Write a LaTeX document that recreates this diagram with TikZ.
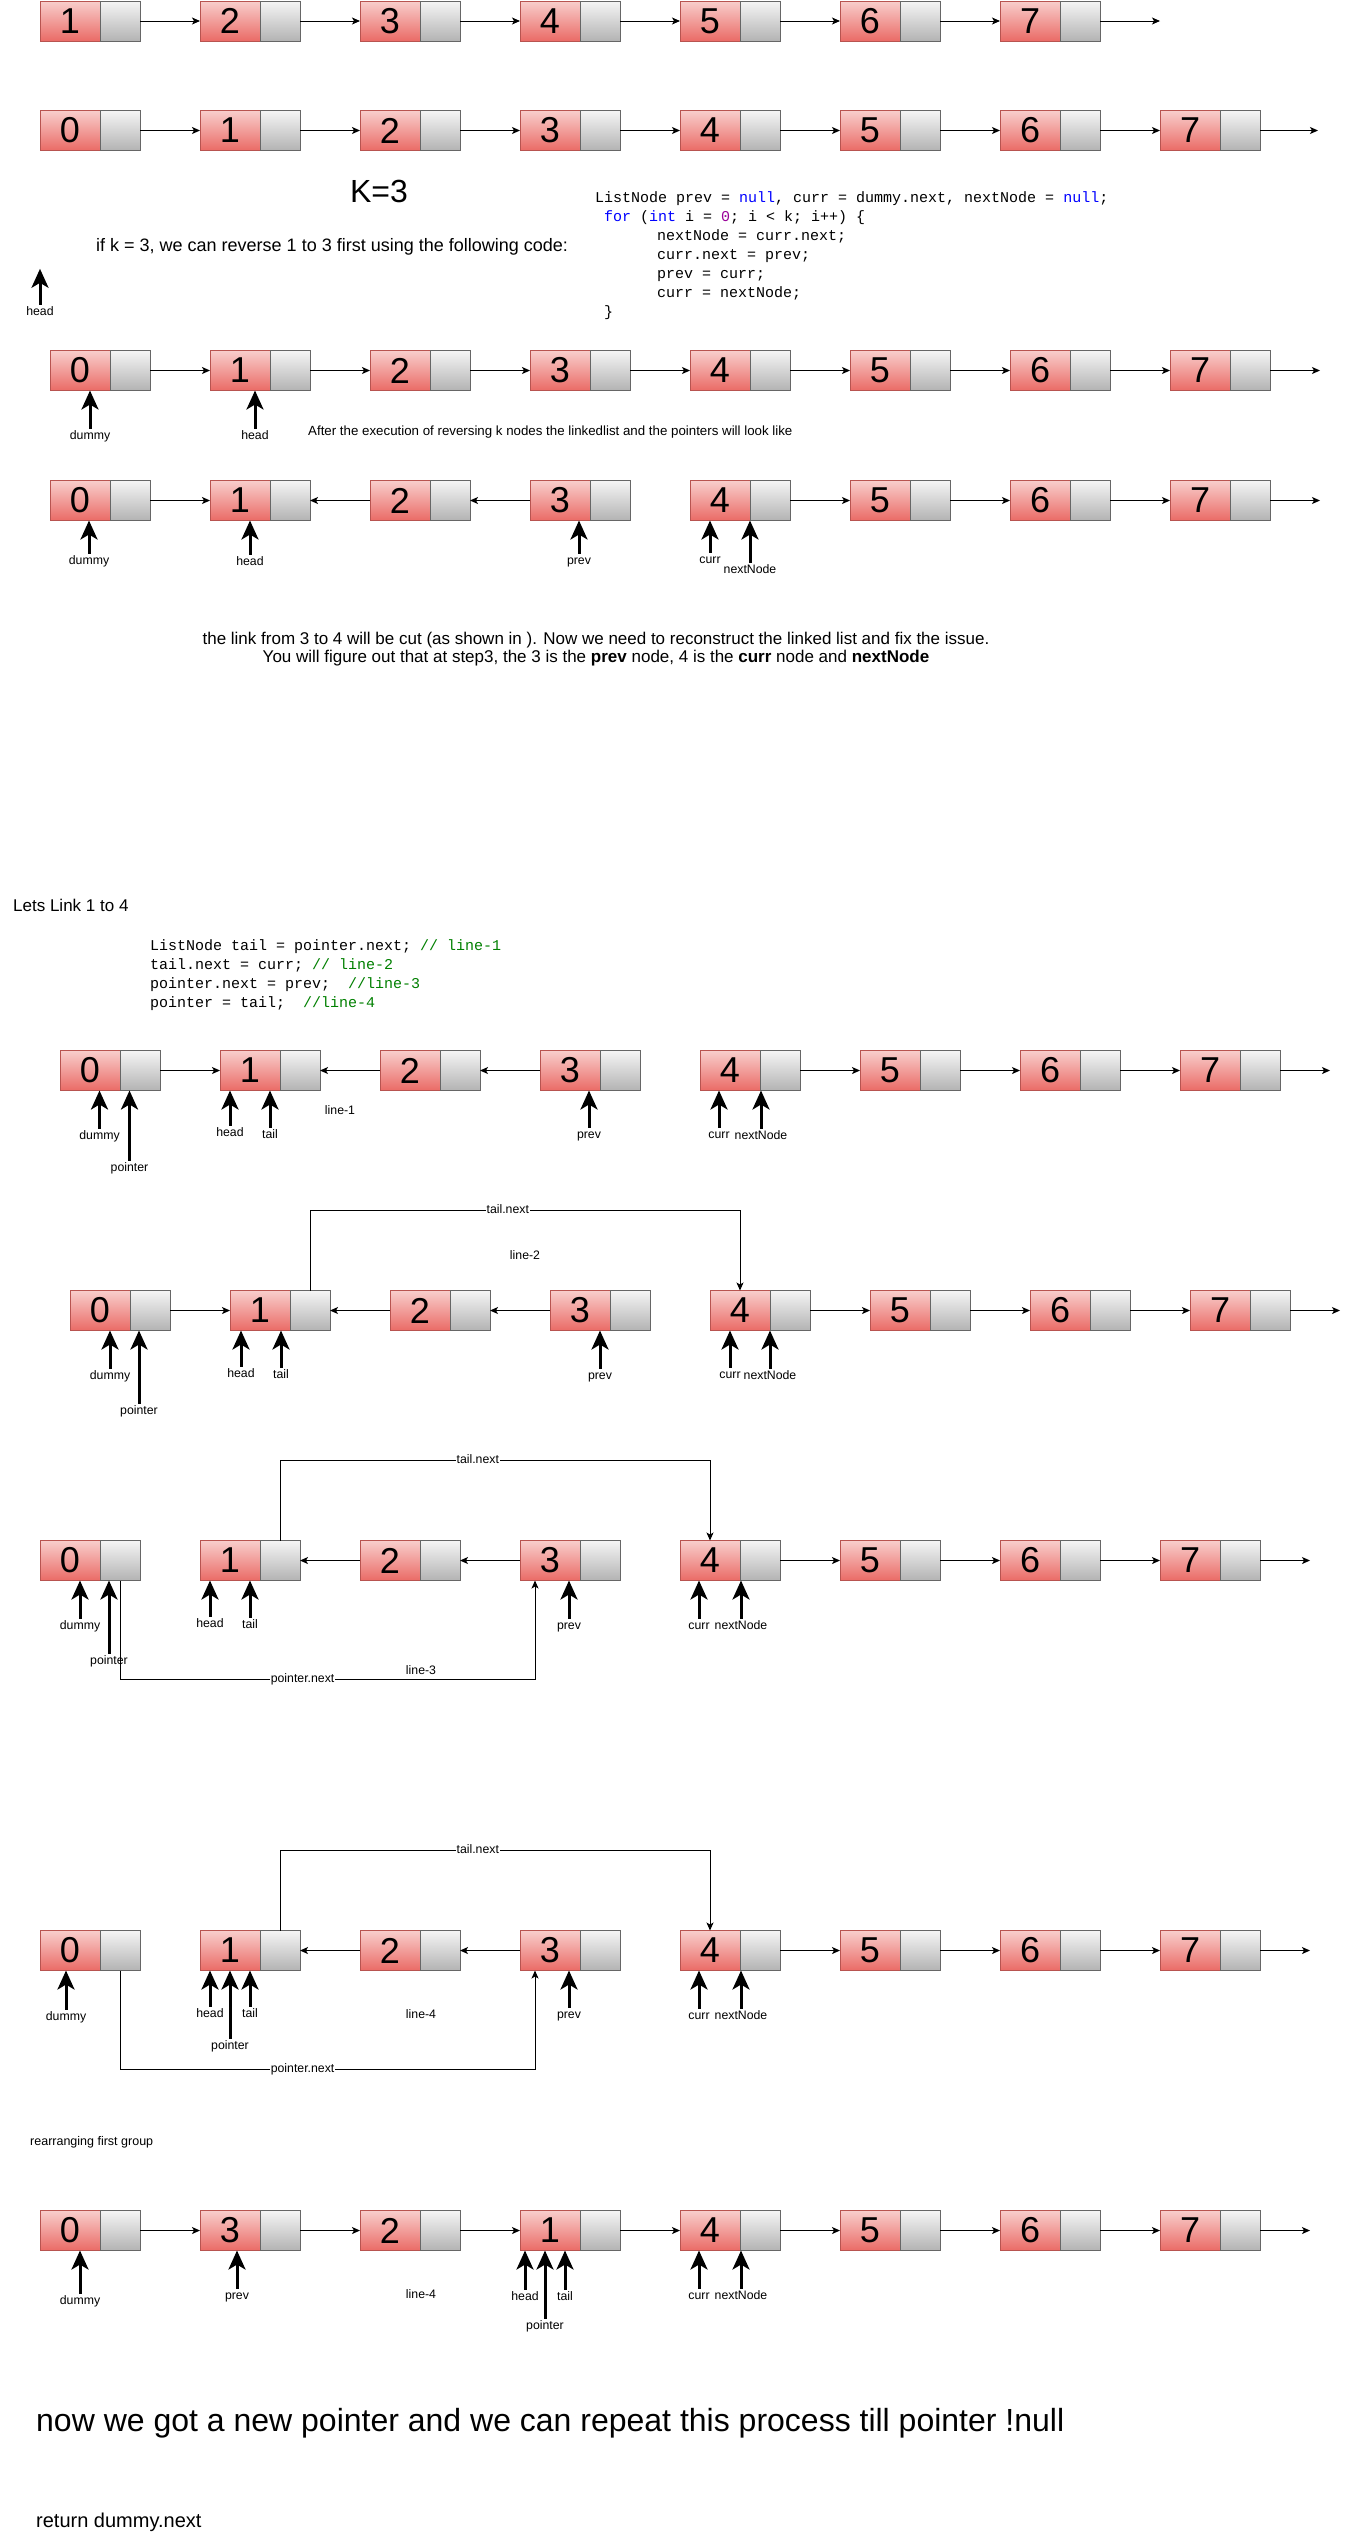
\documentclass[tikz,border=0pt]{standalone}
\usepackage{fontspec}
\setmainfont{Liberation Sans}
\newfontfamily\codefont{Liberation Mono}
\usetikzlibrary{arrows.meta,positioning}
\definecolor{celltop}{HTML}{F8CECC}
\definecolor{cellbot}{HTML}{EA6B66}
\definecolor{cellline}{HTML}{B85450}
\definecolor{nexttop}{HTML}{F5F5F5}
\definecolor{nextbot}{HTML}{B3B3B3}
\definecolor{nextline}{HTML}{666666}
\definecolor{kwblue}{HTML}{0000FF}
\definecolor{numpurple}{HTML}{990099}
\definecolor{cmtgreen}{HTML}{008000}
\newcommand{\kw}[1]{\textcolor{kwblue}{#1}}
\newcommand{\cmt}[1]{\textcolor{cmtgreen}{#1}}
\tikzset{
  cell/.style={draw=cellline, top color=celltop, bottom color=cellbot, minimum width=60pt, minimum height=40pt, inner sep=0pt, outer sep=0pt, font=\fontsize{36}{36}\selectfont},
  nextcell/.style={draw=nextline, top color=nexttop, bottom color=nextbot, minimum width=40pt, minimum height=40pt, inner sep=0pt, outer sep=0pt},
  link/.style={-{Stealth[length=8pt,width=7pt,inset=2pt]}, line width=1pt},
  ptrarrow/.style={-{Stealth[length=19pt,width=17pt,inset=5pt]}, line width=3pt},
  tag/.style={font=\fontsize{12.3}{12.3}\selectfont, inner sep=1pt, text height=9pt, text depth=3pt},
  code/.style={font=\codefont\fontsize{15}{15}\selectfont, anchor=base west, inner sep=0pt},
  note/.style={anchor=west, inner sep=0pt}
}
\newcommand{\listrow}[4]{%
  \foreach \dig [count=\idx from 0] in {#4} {
    \node[cell] (#1v\idx) at ({#2+160*\idx+30},#3) {\dig};
    \node[nextcell, right=0pt of #1v\idx] (#1n\idx) {};
  }}
\newcommand{\pointsto}[5]{%
  \node[tag] (#1) at (#2,#3) {#4};
  \draw[ptrarrow] (#1.north) -- (#1 |- #5.south);}

\begin{document}
\begin{tikzpicture}[x=1pt,y=-1pt]
\useasboundingbox (0,0) rectangle (1349,2541);
\fill[white] (0,0) rectangle (1349,2541);

\listrow{A}{40}{21}{1,2,3,4,5,6,7}
\foreach \a/\b in {0/1,1/2,2/3,3/4,4/5,5/6} \draw[link] (An\a) -- (Av\b);
\draw[link] (An6.east) -- ++(60,0);

\listrow{B}{40}{130.5}{0,1,2,3,4,5,6,7}
\foreach \a/\b in {0/1,1/2,2/3,3/4,4/5,5/6,6/7} \draw[link] (Bn\a) -- (Bv\b);
\draw[link] (Bn7.east) -- ++(58,0);

\node[font=\fontsize{32}{32}\selectfont] (kval) at (379,191) {K=3};
\node[note, font=\fontsize{18}{18}\selectfont] (ifk) at (96,247) {if k = 3, we can reverse 1 to 3 first using the following code:};
\node[code] (c1a) at (595,202) {ListNode prev = \kw{null}, curr = dummy.next, nextNode = \kw{null};};
\node[code] (c1b) at (604,221) {\kw{for} (\kw{int} i = \textcolor{numpurple}{0}; i < k; i++) \{};
\node[code] (c1c) at (657,240) {nextNode = curr.next;};
\node[code] (c1d) at (657,259) {curr.next = prev;};
\node[code] (c1e) at (657,278) {prev = curr;};
\node[code] (c1f) at (657,297) {curr = nextNode;};
\node[code] (c1g) at (604,316) {\}};

\node[tag] (Ahead) at (40,312) {head};
\draw[ptrarrow] (Ahead.north) -- ++(0,-36);

\listrow{C}{50}{370.5}{0,1,2,3,4,5,6,7}
\foreach \a/\b in {0/1,1/2,2/3,3/4,4/5,5/6,6/7} \draw[link] (Cn\a) -- (Cv\b);
\draw[link] (Cn7.east) -- ++(50,0);
\pointsto{Cdummy}{90}{436}{dummy}{Cv0}
\pointsto{Chead}{255}{436}{head}{Cv1}
\node[note, font=\fontsize{13.3}{13.3}\selectfont] (after) at (308,432) {After the execution of reversing k nodes the linkedlist and the pointers will look like};

\listrow{D}{50}{500.5}{0,1,2,3,4,5,6,7}
\draw[link] (Dn0) -- (Dv1);
\draw[link] (Dv2) -- (Dn1);
\draw[link] (Dv3) -- (Dn2);
\foreach \a/\b in {4/5,5/6,6/7} \draw[link] (Dn\a) -- (Dv\b);
\draw[link] (Dn7.east) -- ++(50,0);
\pointsto{Ddummy}{89}{561}{dummy}{Dv0}
\pointsto{Dhead}{250}{562}{head}{Dv1}
\pointsto{Dprev}{579}{561}{prev}{Dv3}
\pointsto{Dcurr}{710}{560}{curr}{Dv4}
\pointsto{Dnext}{750}{570}{nextNode}{Dv4}

\node[align=center, font=\fontsize{17}{18}\selectfont] (cutnote) at (596,649) {the link from 3 to 4 will be cut (as shown in ). Now we need to reconstruct the linked list and fix the issue.\\You will figure out that at step3, the 3 is the \textbf{prev} node, 4 is the \textbf{curr} node and \textbf{nextNode}};

\node[note, font=\fontsize{17}{17}\selectfont] (letslink) at (13,905) {Lets Link 1 to 4};
\node[code] (c2a) at (150,950) {ListNode tail = pointer.next; \cmt{// line-1}};
\node[code] (c2b) at (150,969) {tail.next = curr; \cmt{// line-2}};
\node[code] (c2c) at (150,988) {pointer.next = prev;~~\cmt{//line-3}};
\node[code] (c2d) at (150,1007) {pointer = tail;~~\cmt{//line-4}};

\listrow{E}{60}{1070.5}{0,1,2,3,4,5,6,7}
\draw[link] (En0) -- (Ev1);
\draw[link] (Ev2) -- (En1);
\draw[link] (Ev3) -- (En2);
\foreach \a/\b in {4/5,5/6,6/7} \draw[link] (En\a) -- (Ev\b);
\draw[link] (En7.east) -- ++(50,0);
\pointsto{Edummy}{99.5}{1136}{dummy}{Ev0}
\pointsto{Epointer}{129.5}{1168}{pointer}{En0}
\pointsto{Ehead}{230}{1133}{head}{Ev1}
\pointsto{Etail}{270}{1135}{tail}{Ev1}
\pointsto{Eprev}{589}{1135}{prev}{Ev3}
\pointsto{Ecurr}{719}{1135}{curr}{Ev4}
\pointsto{Enext}{761}{1136}{nextNode}{Ev4}
\node[tag] (line1) at (340,1111) {line-1};

\listrow{F}{70}{1310.5}{0,1,2,3,4,5,6,7}
\draw[link] (Fn0) -- (Fv1);
\draw[link] (Fv2) -- (Fn1);
\draw[link] (Fv3) -- (Fn2);
\foreach \a/\b in {4/5,5/6,6/7} \draw[link] (Fn\a) -- (Fv\b);
\draw[link] (Fn7.east) -- ++(50,0);
\draw[link] (Fn1.north) -- ++(0,-80) -| node[tag, fill=white, pos=0.23] {tail.next} (Fv4.north);
\node[tag] (line2) at (525,1256) {line-2};
\pointsto{Fdummy}{110}{1376}{dummy}{Fv0}
\pointsto{Fpointer}{139}{1411}{pointer}{Fn0}
\pointsto{Fhead}{241}{1374}{head}{Fv1}
\pointsto{Ftail}{281}{1375}{tail}{Fv1}
\pointsto{Fprev}{600}{1376}{prev}{Fv3}
\pointsto{Fcurr}{730}{1375}{curr}{Fv4}
\pointsto{Fnext}{770}{1376}{nextNode}{Fv4}

\listrow{G}{40}{1560.5}{0,1,2,3,4,5,6,7}
\draw[link] (Gv2) -- (Gn1);
\draw[link] (Gv3) -- (Gn2);
\foreach \a/\b in {4/5,5/6,6/7} \draw[link] (Gn\a) -- (Gv\b);
\draw[link] (Gn7.east) -- ++(50,0);
\draw[link] (Gn1.north) -- ++(0,-80) -| node[tag, fill=white, pos=0.23] {tail.next} (Gv4.north);
\draw[link] (Gn0.south) -- ++(0,99) -| node[tag, fill=white, pos=0.22] {pointer.next} ([xshift=15pt]Gv3.south west);
\node[tag] (line3) at (421,1671) {line-3};
\pointsto{Gdummy}{80}{1626}{dummy}{Gv0}
\pointsto{Gpointer}{109}{1661}{pointer}{Gn0}
\pointsto{Ghead}{210}{1624}{head}{Gv1}
\pointsto{Gtail}{250}{1625}{tail}{Gv1}
\pointsto{Gprev}{569}{1626}{prev}{Gv3}
\pointsto{Gcurr}{699}{1626}{curr}{Gv4}
\pointsto{Gnext}{741}{1626}{nextNode}{Gv4}

\listrow{H}{40}{1950.5}{0,1,2,3,4,5,6,7}
\draw[link] (Hv2) -- (Hn1);
\draw[link] (Hv3) -- (Hn2);
\foreach \a/\b in {4/5,5/6,6/7} \draw[link] (Hn\a) -- (Hv\b);
\draw[link] (Hn7.east) -- ++(50,0);
\draw[link] (Hn1.north) -- ++(0,-80) -| node[tag, fill=white, pos=0.23] {tail.next} (Hv4.north);
\draw[link] (Hn0.south) -- ++(0,99) -| node[tag, fill=white, pos=0.22] {pointer.next} ([xshift=15pt]Hv3.south west);
\node[tag] (line4) at (421,2015) {line-4};
\pointsto{Hdummy}{66}{2017}{dummy}{Hv0}
\pointsto{Hhead}{210}{2014}{head}{Hv1}
\pointsto{Hpointer}{230}{2046}{pointer}{Hv1}
\pointsto{Htail}{250}{2014}{tail}{Hv1}
\pointsto{Hprev}{569}{2015}{prev}{Hv3}
\pointsto{Hcurr}{699}{2016}{curr}{Hv4}
\pointsto{Hnext}{741}{2016}{nextNode}{Hv4}

\node[note, font=\fontsize{12.5}{12.5}\selectfont] (regroup) at (30,2142) {rearranging first group};

\listrow{I}{40}{2230.5}{0,3,2,1,4,5,6,7}
\foreach \a/\b in {0/1,1/2,2/3,3/4,4/5,5/6,6/7} \draw[link] (In\a) -- (Iv\b);
\draw[link] (In7.east) -- ++(50,0);
\node[tag] (line4b) at (421,2295) {line-4};
\pointsto{Idummy}{80}{2301}{dummy}{Iv0}
\pointsto{Iprev}{237}{2296}{prev}{Iv1}
\pointsto{Ihead}{525}{2297}{head}{Iv3}
\pointsto{Ipointer}{545}{2326}{pointer}{Iv3}
\pointsto{Itail}{565}{2297}{tail}{Iv3}
\pointsto{Icurr}{699}{2296}{curr}{Iv4}
\pointsto{Inext}{741}{2296}{nextNode}{Iv4}

\node[note, font=\fontsize{32}{32}\selectfont] (repeat) at (36,2423) {now we got a new pointer and we can repeat this process till pointer !null};
\node[note, font=\fontsize{20}{20}\selectfont] (ret) at (36,2522) {return dummy.next};
\end{tikzpicture}
\end{document}
